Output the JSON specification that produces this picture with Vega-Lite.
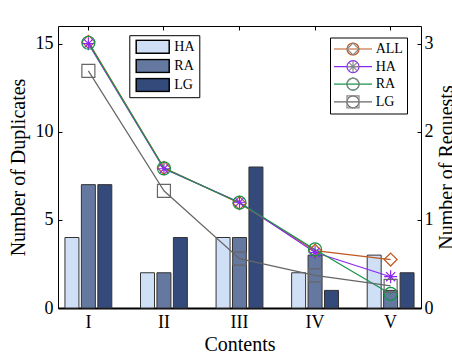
{
  "$schema": "https://vega.github.io/schema/vega-lite/v6.json",
  "width": 363,
  "height": 282,
  "autosize": "none",
  "padding": {"left": 58, "top": 26, "right": 31, "bottom": 52},
  "config": {
    "font": "Liberation Serif",
    "view": {"stroke": "black", "strokeWidth": 1},
    "axis": {"labelFont": "Liberation Serif", "titleFont": "Liberation Serif", "labelColor": "black", "titleColor": "black", "titleFontWeight": "normal", "grid": false, "domainColor": "black", "tickColor": "black"},
    "legend": {"labelFont": "Liberation Serif", "labelColor": "black", "gridAlign": "all"}
  },
  "title": {"text": "×10³", "anchor": "end", "orient": "top", "dx": 34, "offset": 2, "fontSize": 18, "fontWeight": "normal", "font": "Liberation Serif", "color": "black"},
  "datasets": {
    "bars": [
      {"c": "I", "type": "HA", "v": 4}, {"c": "I", "type": "RA", "v": 7}, {"c": "I", "type": "LG", "v": 7},
      {"c": "II", "type": "HA", "v": 2}, {"c": "II", "type": "RA", "v": 2}, {"c": "II", "type": "LG", "v": 4},
      {"c": "III", "type": "HA", "v": 4}, {"c": "III", "type": "RA", "v": 4}, {"c": "III", "type": "LG", "v": 8},
      {"c": "IV", "type": "HA", "v": 2}, {"c": "IV", "type": "RA", "v": 3}, {"c": "IV", "type": "LG", "v": 1},
      {"c": "V", "type": "HA", "v": 3}, {"c": "V", "type": "RA", "v": 1}, {"c": "V", "type": "LG", "v": 2}
    ],
    "lines": [
      {"c": "I", "series": "ALL", "r": 3020}, {"c": "II", "series": "ALL", "r": 1590}, {"c": "III", "series": "ALL", "r": 1190}, {"c": "IV", "series": "ALL", "r": 650}, {"c": "V", "series": "ALL", "r": 550},
      {"c": "I", "series": "HA", "r": 3000}, {"c": "II", "series": "HA", "r": 1580}, {"c": "III", "series": "HA", "r": 1200}, {"c": "IV", "series": "HA", "r": 630}, {"c": "V", "series": "HA", "r": 355},
      {"c": "I", "series": "RA", "r": 3010}, {"c": "II", "series": "RA", "r": 1585}, {"c": "III", "series": "RA", "r": 1195}, {"c": "IV", "series": "RA", "r": 665}, {"c": "V", "series": "RA", "r": 160},
      {"c": "I", "series": "LG", "r": 2690}, {"c": "II", "series": "LG", "r": 1330}, {"c": "III", "series": "LG", "r": 560}, {"c": "IV", "series": "LG", "r": 370}, {"c": "V", "series": "LG", "r": 250}
    ]
  },
  "layer": [
    {
      "data": {"name": "bars"},
      "mark": {"type": "bar", "stroke": "#333333", "strokeWidth": 1},
      "encoding": {
        "x": {"field": "c", "type": "nominal", "sort": ["I", "II", "III", "IV", "V"],
          "scale": {"paddingInner": 0.38, "paddingOuter": 0.092},
          "axis": {"orient": "bottom", "title": "Contents", "labelAngle": 0, "labelFont": "Liberation Serif", "titleFont": "Liberation Serif", "labelFontSize": 18, "titleFontSize": 20, "ticks": false, "domainWidth": 2, "labelPadding": 5, "titlePadding": 3}},
        "xOffset": {"field": "type", "type": "nominal", "sort": ["HA", "RA", "LG"], "scale": {"paddingInner": 0.15}},
        "y": {"field": "v", "type": "quantitative", "scale": {"domain": [0, 16], "nice": false},
          "axis": {"orient": "left", "values": [0, 5, 10, 15], "title": "Number of Duplicates", "labelFont": "Liberation Serif", "titleFont": "Liberation Serif", "labelFontSize": 18, "titleFontSize": 20, "tickSize": -4, "labelPadding": 9, "titlePadding": 7, "domain": false}},
        "fill": {"field": "type", "type": "nominal",
          "scale": {"domain": ["HA", "RA", "LG"], "range": ["#cfe0f6", "#6478a0", "#334a7b"]},
          "legend": {"title": null, "orient": "none", "legendX": 71.3, "legendY": 9.2, "direction": "vertical", "symbolType": "M-2.75,-1.08H2.75V1.08H-2.75Z", "symbolSize": 144, "symbolStrokeColor": "black", "symbolStrokeWidth": 1.5, "symbolOffset": 12.4, "labelOffset": 14.6, "labelFont": "Liberation Serif", "labelFontSize": 14, "clipHeight": 15, "rowPadding": 4.2, "padding": 4, "strokeColor": "black", "fillColor": "white"}}
      }
    },
    {
      "data": {"name": "lines"},
      "encoding": {
        "x": {"field": "c", "type": "nominal", "sort": ["I", "II", "III", "IV", "V"],
          "axis": {"orient": "top", "labels": false, "ticks": true, "tickSize": -4, "domain": false, "title": null}},
        "y": {"field": "r", "type": "quantitative", "scale": {"domain": [0, 3200], "nice": false},
          "axis": {"orient": "right", "values": [0, 1000, 2000, 3000], "labelExpr": "datum.value / 1000", "title": "Number of Requests", "titleAngle": 270, "titleBaseline": "top", "labelFont": "Liberation Serif", "titleFont": "Liberation Serif", "labelFontSize": 18, "titleFontSize": 20, "tickSize": -4, "labelPadding": 7, "titlePadding": 3, "domain": false}}
      },
      "layer": [
        {
          "mark": {"type": "line", "strokeWidth": 1.2},
          "encoding": {
            "stroke": {"field": "series", "type": "nominal",
              "scale": {"domain": ["ALL", "HA", "RA", "LG"], "range": ["#c0581f", "#8b28f0", "#17944a", "#666666"]},
              "legend": {"title": null, "orient": "none", "legendX": 272, "legendY": 11.5, "direction": "vertical", "symbolType": "M-3.17,0H3.17", "symbolSize": 144, "symbolStrokeWidth": 1.2, "symbolOffset": 12, "labelOffset": 15.7, "labelFont": "Liberation Serif", "labelFontSize": 14, "clipHeight": 15, "rowPadding": 2.6, "padding": 4, "strokeColor": "black", "fillColor": "white"}}
          }
        },
        {
          "mark": {"type": "point", "filled": false, "size": 169, "strokeWidth": 1.2, "opacity": 1},
          "encoding": {
            "color": {"field": "series", "type": "nominal", "sort": ["ALL", "HA", "RA", "LG"],
              "scale": {"range": ["#c0581f", "#8b28f0", "#17944a", "#666666"]},
              "legend": {"title": null, "orient": "none", "legendX": 272, "legendY": 11.5, "direction": "vertical", "symbolSize": 144, "symbolStrokeWidth": 1.2, "symbolOffset": 12, "labelOffset": 15.7, "labelFont": "Liberation Serif", "labelFontSize": 14, "labelOpacity": 0, "clipHeight": 15, "rowPadding": 2.6, "padding": 4}},
            "shape": {"field": "series", "type": "nominal", "sort": ["ALL", "HA", "RA", "LG"],
              "scale": {"range": ["diamond", "M-1,0H1M0,-1V1M-0.7,-0.7L0.7,0.7M-0.7,0.7L0.7,-0.7", "M1,0L0.924,0.383L0.707,0.707L0.383,0.924L0,1L-0.383,0.924L-0.707,0.707L-0.924,0.383L-1,0L-0.924,-0.383L-0.707,-0.707L-0.383,-0.924L0,-1L0.383,-0.924L0.707,-0.707L0.924,-0.383Z", "square"]},
              "legend": {"title": null, "orient": "none", "legendX": 272, "legendY": 11.5, "direction": "vertical", "symbolSize": 144, "symbolStrokeWidth": 1.2, "symbolOffset": 12, "labelOffset": 15.7, "labelFont": "Liberation Serif", "labelFontSize": 14, "labelOpacity": 0, "clipHeight": 15, "rowPadding": 2.6, "padding": 4}}
          }
        }
      ]
    }
  ],
  "resolve": {"scale": {"y": "independent"}, "axis": {"x": "independent"}}
}
